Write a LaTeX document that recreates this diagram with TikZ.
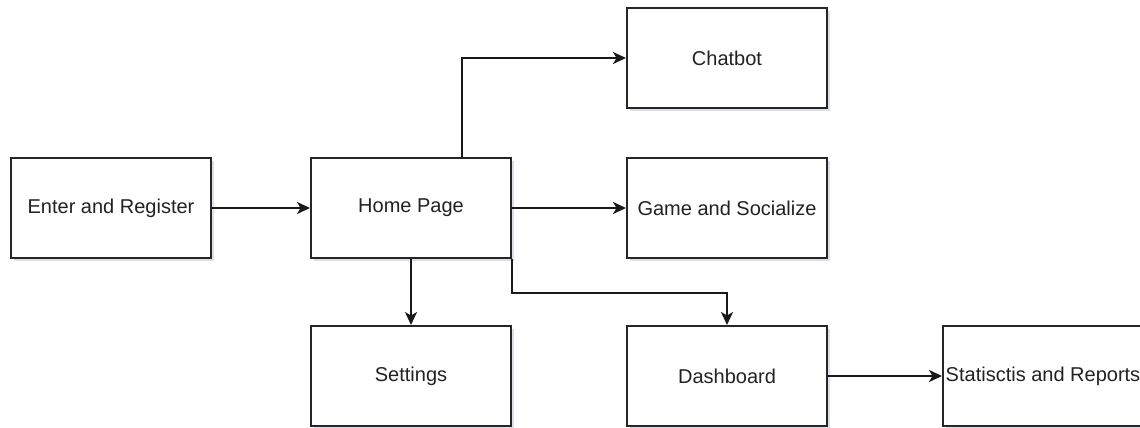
\documentclass[tikz,border=0pt]{standalone}
\usepackage{fontspec}
\setmainfont{Liberation Sans}
\usetikzlibrary{arrows.meta,shadows,calc}
\definecolor{txt}{HTML}{222222}
\definecolor{shadowc}{HTML}{9FA6C0}
\begin{document}
\begin{tikzpicture}[x=1pt,y=-1pt,
  box/.style={draw=black!85,line width=2pt,fill=white,minimum width=200pt,minimum height=100pt,inner sep=0pt,
    font=\fontsize{20}{24}\selectfont,text=txt,
    drop shadow={shadow xshift=3pt,shadow yshift=-3pt,opacity=0.35,fill=shadowc}},
  conn/.style={draw=black!90,line width=2pt,-{Stealth[length=13pt,width=12pt,inset=3.5pt]}}]
\useasboundingbox (0,0) rectangle (1140,428);
\node[box] (er) at (111,208) {Enter and Register};
\node[box] (home) at (411,208) {Home Page};
\node[box] (chat) at (727,58) {Chatbot};
\node[box] (game) at (727,208) {Game and Socialize};
\node[box] (set) at (411,376) {Settings};
\node[box] (dash) at (727,376) {Dashboard};
\node[box] (stats) at (1043,376) {Statisctis and Reports};
\coordinate (hn) at ($(home.north west)!0.75!(home.north east)$);
\draw[conn] (er.east) -- (home.west);
\draw[conn] (hn) |- (chat.west);
\draw[conn] (home.east) -- (game.west);
\draw[conn] (home.south) -- (set.north);
\draw[conn] (home.south east) -- ++(0,34) -| (dash.north);
\draw[conn] (dash.east) -- (stats.west);
\end{tikzpicture}
\end{document}
